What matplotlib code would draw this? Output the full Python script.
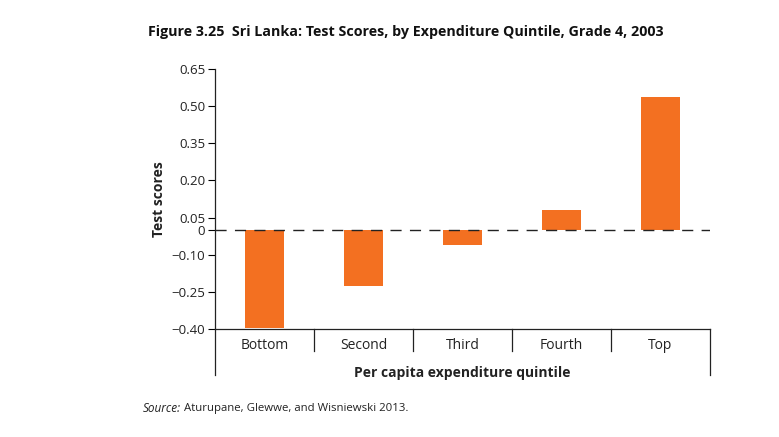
import matplotlib

matplotlib.use("Agg")
import matplotlib.pyplot as plt  # noqa: E402
from matplotlib.transforms import blended_transform_factory  # noqa: E402

plt.rcParams["font.family"] = ["Open Sans", "DejaVu Sans"]

QUINTILES = ["Bottom", "Second", "Third", "Fourth", "Top"]
SCORES = [-0.395, -0.225, -0.06, 0.08, 0.535]
YTICKS = [0.65, 0.50, 0.35, 0.20, 0.05, 0, -0.10, -0.25, -0.40]
BAR_COLOR = "#F37021"

fig = plt.figure(figsize=(7.79, 4.37), dpi=100)
ax = fig.add_axes([215 / 779, 1 - 329 / 437, 495 / 779, 260 / 437])

x = list(range(len(QUINTILES)))
ax.bar(x, SCORES, width=0.4, color=BAR_COLOR, zorder=2)
ax.axhline(0, color="#222", lw=1, ls=(0, (8, 6)), zorder=3)

ax.set_xlim(-0.5, len(QUINTILES) - 0.5)
ax.set_ylim(-0.40, 0.65)
ax.set_yticks(YTICKS)
ax.set_yticklabels(["0" if v == 0 else f"{v:.2f}".replace("-", "\u2212") for v in YTICKS],
                   fontsize=9.5, color="#222")
ax.tick_params(axis="y", length=5, width=0.8, pad=2)
ax.set_xticks([])

for s in ("top", "right"):
    ax.spines[s].set_visible(False)
for s in ("left", "bottom"):
    ax.spines[s].set_linewidth(0.9)
    ax.spines[s].set_color("#222")

# category separators and frame below the axis
tr = blended_transform_factory(ax.transData, ax.transAxes)
for i in range(1, len(QUINTILES)):
    ax.plot([i - 0.5, i - 0.5], [0, -0.085], transform=tr, color="#222", lw=0.9, clip_on=False)
for xe in (-0.5, len(QUINTILES) - 0.5):
    ax.plot([xe, xe], [0, -0.177], transform=tr, color="#222", lw=0.9, clip_on=False)
for i, name in enumerate(QUINTILES):
    ax.text(i, -0.065, name, transform=tr, ha="center", va="center", fontsize=10, color="#222")

ax.text(0.5, -0.17, "Per capita expenditure quintile", transform=ax.transAxes,
        ha="center", va="center", fontsize=10, fontweight="bold", color="#222")
ax.set_ylabel("Test scores", fontsize=10, fontweight="bold", color="#222", labelpad=4)

fig.text(148 / 779, 1 - 32 / 437,
         "Figure 3.25  Sri Lanka: Test Scores, by Expenditure Quintile, Grade 4, 2003",
         ha="left", va="center", fontsize=10.25, fontweight="bold", color="#111")
src = fig.text(143 / 779, 1 - 409 / 437, "Source:", ha="left", va="center",
               fontsize=8.5, style="italic", color="#222")
fig.canvas.draw()
bb = src.get_window_extent()
fig.text((bb.x1 + 3) / 779, 1 - 409 / 437, "Aturupane, Glewwe, and Wisniewski 2013.",
         ha="left", va="center", fontsize=8.2, color="#222")

fig.savefig("out.png", dpi=100)
